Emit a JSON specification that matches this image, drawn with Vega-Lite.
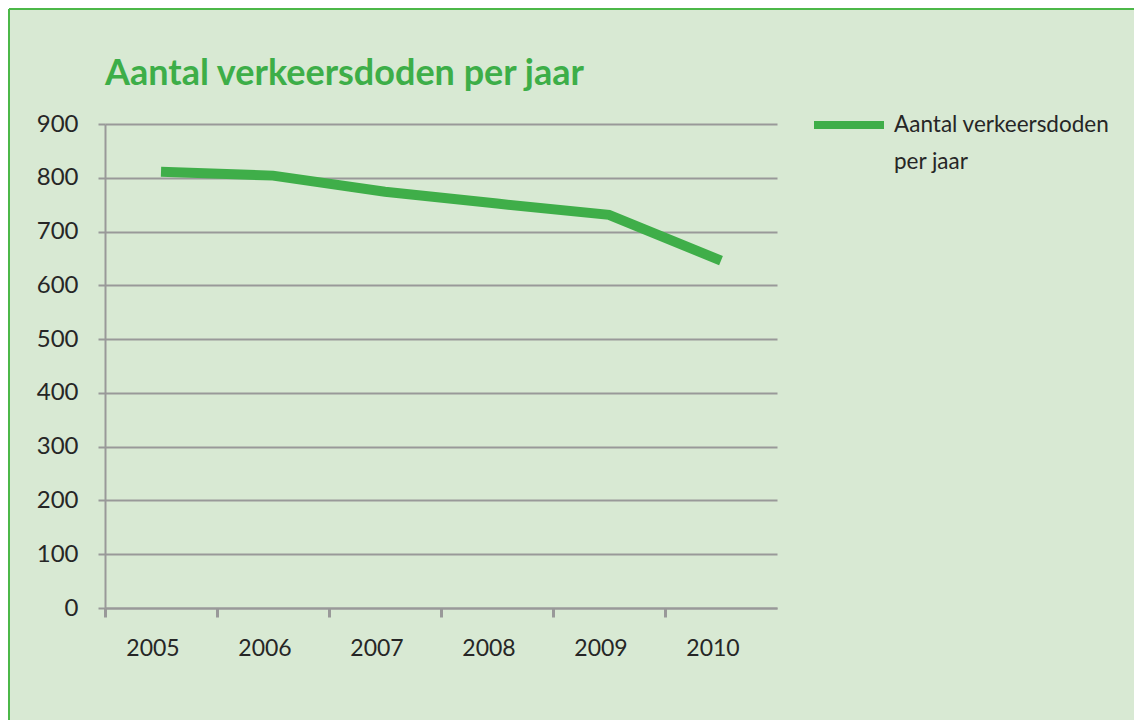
{
  "$schema": "https://vega.github.io/schema/vega-lite/v6.json",
  "width": 1125,
  "height": 711,
  "autosize": {"type": "none"},
  "padding": {"left": 9, "top": 9, "right": 0, "bottom": 0},
  "background": "#ffffff",
  "config": {
    "view": {"fill": "#d8e9d3", "stroke": "#4cb848", "strokeWidth": 2, "strokeDash": [1125, 1836, 711, 0]},
    "font": "Lato",
    "style": {"guide-label": {"lineHeight": 37}}
  },
  "title": {
    "text": "Aantal verkeersdoden per jaar",
    "anchor": "start",
    "frame": "group",
    "offset": 0,
    "dx": 96,
    "dy": 112,
    "baseline": "alphabetic",
    "fontSize": 36,
    "fontWeight": "bold",
    "color": "#3dae48",
    "font": "Lato"
  },
  "data": {
    "values": [
      {"jaar": "2005", "doden": 811, "reeks": "Aantal verkeersdoden per jaar"},
      {"jaar": "2006", "doden": 804, "reeks": "Aantal verkeersdoden per jaar"},
      {"jaar": "2007", "doden": 774, "reeks": "Aantal verkeersdoden per jaar"},
      {"jaar": "2008", "doden": 752, "reeks": "Aantal verkeersdoden per jaar"},
      {"jaar": "2009", "doden": 731, "reeks": "Aantal verkeersdoden per jaar"},
      {"jaar": "2010", "doden": 646, "reeks": "Aantal verkeersdoden per jaar"}
    ]
  },
  "mark": {"type": "line", "strokeWidth": 10, "strokeCap": "butt"},
  "encoding": {
    "x": {
      "field": "jaar",
      "type": "ordinal",
      "scale": {"type": "band", "range": [96, 768], "paddingInner": 0, "paddingOuter": 0},
      "axis": {
        "title": null,
        "orient": "bottom",
        "offset": -112,
        "bandPosition": 0,
        "labelOffset": -8,
        "labelAngle": 0,
        "labelFontSize": 23,
        "labelColor": "#262626",
        "labelPadding": 20,
        "tickSize": 9,
        "tickWidth": 3,
        "tickColor": "#999999",
        "domainColor": "#999999",
        "domainWidth": 2,
        "grid": false
      }
    },
    "y": {
      "field": "doden",
      "type": "quantitative",
      "scale": {"domain": [0, 900], "range": [599, 115], "nice": false, "zero": true},
      "axis": {
        "title": null,
        "offset": -96,
        "values": [0, 100, 200, 300, 400, 500, 600, 700, 800, 900],
        "labelFontSize": 24,
        "labelColor": "#262626",
        "labelPadding": 20,
        "tickSize": 7,
        "tickWidth": 2,
        "tickColor": "#999999",
        "domainColor": "#999999",
        "domainWidth": 2,
        "grid": true,
        "gridColor": "#999999",
        "gridWidth": 2,
        "gridOpacity": 1
      }
    },
    "color": {
      "field": "reeks",
      "type": "nominal",
      "scale": {"range": ["#3fae49"]},
      "legend": {
        "title": null,
        "orient": "none",
        "legendX": 801,
        "legendY": 77,
        "symbolType": "stroke",
        "symbolSize": 4900,
        "symbolStrokeWidth": 8,
        "labelFontSize": 22.5,
        "labelColor": "#262626",
        "labelExpr": "['Aantal verkeersdoden', 'per jaar']",
        "labelLimit": 400,
        "labelOffset": 6
      }
    }
  }
}
